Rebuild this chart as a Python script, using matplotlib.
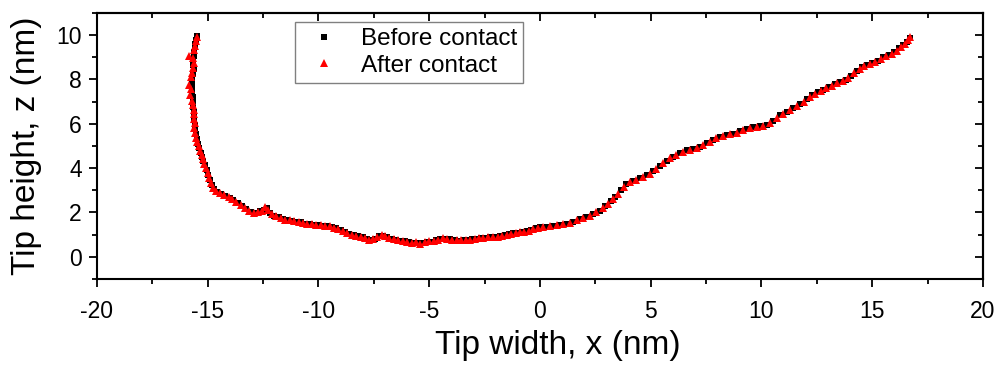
import matplotlib
matplotlib.use('Agg')
import matplotlib.pyplot as plt
from matplotlib.ticker import MultipleLocator

# tip profile before contact (black squares)
before_x = [-15.50, -15.53, -15.56, -15.58, -15.60, -15.62, -15.65, -15.66, -15.64, -15.67,
            -15.70, -15.73, -15.72, -15.70, -15.68, -15.66, -15.65, -15.63, -15.61, -15.60,
            -15.58, -15.57, -15.55, -15.50, -15.45, -15.38, -15.32, -15.25, -15.20, -15.12,
            -15.05, -14.98, -14.90, -14.82, -14.72, -14.58, -14.40, -14.20, -14.00, -13.85,
            -13.65, -13.45, -13.25, -13.05, -12.85, -12.65, -12.45, -12.32, -12.18, -12.00,
            -11.80, -11.60, -11.40, -11.20, -11.00, -10.80, -10.60, -10.40, -10.20, -10.00,
            -9.80, -9.60, -9.40, -9.20, -9.00, -8.80, -8.60, -8.40, -8.20, -8.00,
            -7.80, -7.65, -7.45, -7.25, -7.07, -6.90, -6.70, -6.50, -6.30, -6.10,
            -5.90, -5.70, -5.50, -5.30, -5.12, -4.90, -4.70, -4.50, -4.30, -4.06,
            -3.85, -3.65, -3.45, -3.25, -3.05, -2.85, -2.65, -2.45, -2.25, -2.00,
            -1.80, -1.60, -1.40, -1.20, -1.00, -0.80, -0.60, -0.40, -0.20, 0.00,
            0.30, 0.60, 0.90, 1.20, 1.50, 1.80, 2.10, 2.40, 2.71, 2.95,
            3.20, 3.40, 3.65, 3.90, 4.20, 4.50, 4.82, 5.10, 5.40, 5.72,
            6.00, 6.30, 6.62, 6.92, 7.22, 7.52, 7.82, 8.12, 8.43, 8.73,
            9.03, 9.33, 9.63, 9.93, 10.23, 10.53, 10.84, 11.14, 11.44, 11.74,
            12.05, 12.30, 12.55, 12.80, 13.05, 13.30, 13.55, 13.80, 14.05, 14.30,
            14.55, 14.75, 15.00, 15.25, 15.50, 15.75, 16.00, 16.20, 16.40, 16.55,
            16.70]
before_z = [9.95, 9.80, 9.62, 9.45, 9.25, 9.05, 8.87, 8.65, 8.45, 8.25,
            8.05, 7.81, 7.60, 7.40, 7.20, 6.98, 6.76, 6.55, 6.35, 6.15,
            5.95, 5.75, 5.55, 5.30, 5.10, 4.90, 4.70, 4.50, 4.32, 4.12,
            3.92, 3.70, 3.48, 3.25, 3.05, 2.92, 2.84, 2.75, 2.67, 2.55,
            2.42, 2.28, 2.15, 2.02, 1.98, 2.05, 2.12, 2.18, 1.98, 1.86,
            1.78, 1.72, 1.66, 1.62, 1.58, 1.55, 1.50, 1.48, 1.45, 1.42,
            1.40, 1.38, 1.35, 1.28, 1.20, 1.10, 1.03, 0.98, 0.92, 0.88,
            0.80, 0.76, 0.82, 0.92, 0.95, 0.88, 0.82, 0.76, 0.72, 0.70,
            0.66, 0.62, 0.64, 0.62, 0.65, 0.68, 0.74, 0.80, 0.82, 0.80,
            0.76, 0.72, 0.74, 0.76, 0.80, 0.82, 0.84, 0.86, 0.88, 0.90,
            0.92, 0.98, 1.04, 1.06, 1.08, 1.12, 1.15, 1.22, 1.30, 1.33,
            1.36, 1.40, 1.45, 1.48, 1.58, 1.70, 1.78, 1.92, 2.08, 2.30,
            2.50, 2.70, 3.00, 3.29, 3.42, 3.55, 3.67, 3.85, 4.10, 4.34,
            4.52, 4.68, 4.80, 4.88, 4.95, 5.12, 5.28, 5.40, 5.48, 5.55,
            5.66, 5.76, 5.85, 5.88, 5.93, 6.12, 6.38, 6.55, 6.70, 6.91,
            7.10, 7.28, 7.42, 7.54, 7.65, 7.80, 7.89, 7.98, 8.15, 8.38,
            8.58, 8.64, 8.72, 8.85, 9.00, 9.10, 9.22, 9.40, 9.55, 9.70,
            9.85]

# tip profile after contact (red triangles)
after_x = [-15.48, -15.52, -15.57, -15.60, -15.85, -15.66, -15.63, -15.68, -15.72, -15.75,
           -15.85, -15.75, -15.78, -15.70, -15.68, -15.64, -15.62, -15.60, -15.58, -15.60,
           -15.57, -15.52, -15.47, -15.40, -15.33, -15.27, -15.22, -15.15, -15.08, -15.00,
           -14.93, -14.85, -14.76, -14.62, -14.45, -14.25, -14.05, -13.90, -13.72, -13.52,
           -13.32, -13.12, -12.92, -12.72, -12.55, -12.40, -12.28, -12.10, -11.90, -11.70,
           -11.50, -11.30, -11.10, -10.90, -10.70, -10.50, -10.30, -10.10, -9.90, -9.70,
           -9.50, -9.30, -9.10, -8.90, -8.70, -8.50, -8.30, -8.10, -7.90, -7.72,
           -7.55, -7.35, -7.15, -6.98, -6.80, -6.60, -6.40, -6.20, -6.00, -5.80,
           -5.60, -5.40, -5.20, -5.00, -4.80, -4.60, -4.40, -4.18, -3.95, -3.75,
           -3.55, -3.35, -3.15, -2.95, -2.75, -2.55, -2.35, -2.12, -1.90, -1.70,
           -1.50, -1.30, -1.10, -0.90, -0.70, -0.50, -0.30, -0.10, 0.15, 0.45,
           0.75, 1.05, 1.35, 1.65, 1.95, 2.25, 2.55, 2.85, 3.08, 3.30,
           3.52, 3.78, 4.05, 4.35, 4.65, 4.95, 5.25, 5.55, 5.85, 6.15,
           6.45, 6.77, 7.07, 7.37, 7.67, 7.97, 8.27, 8.58, 8.88, 9.18,
           9.48, 9.78, 10.08, 10.38, 10.68, 10.99, 11.29, 11.59, 11.90, 12.18,
           12.43, 12.68, 12.93, 13.18, 13.43, 13.68, 13.93, 14.18, 14.43, 14.65,
           14.88, 15.12, 15.38, 15.62, 15.88, 16.10, 16.30, 16.48, 16.62, 16.72]
after_z = [9.92, 9.72, 9.52, 9.32, 9.05, 8.95, 8.72, 8.50, 8.30, 8.10,
           7.75, 7.55, 7.30, 7.05, 6.85, 6.62, 6.42, 6.22, 6.02, 5.80,
           5.60, 5.38, 5.18, 4.98, 4.78, 4.58, 4.40, 4.20, 4.00, 3.78,
           3.56, 3.35, 3.12, 2.98, 2.88, 2.80, 2.72, 2.60, 2.48, 2.35,
           2.20, 2.08, 1.96, 2.00, 2.08, 2.25, 2.10, 1.92, 1.82, 1.76,
           1.68, 1.64, 1.60, 1.55, 1.52, 1.50, 1.46, 1.44, 1.42, 1.40,
           1.38, 1.32, 1.25, 1.15, 1.06, 1.00, 0.95, 0.90, 0.85, 0.78,
           0.80, 0.88, 0.98, 0.92, 0.85, 0.80, 0.74, 0.72, 0.68, 0.64,
           0.66, 0.60, 0.66, 0.70, 0.72, 0.78, 0.84, 0.82, 0.78, 0.74,
           0.76, 0.74, 0.78, 0.82, 0.84, 0.85, 0.88, 0.90, 0.90, 0.95,
           1.00, 1.05, 1.08, 1.10, 1.14, 1.18, 1.26, 1.32, 1.34, 1.38,
           1.42, 1.46, 1.52, 1.64, 1.74, 1.85, 2.00, 2.20, 2.40, 2.60,
           2.85, 3.15, 3.38, 3.48, 3.62, 3.75, 3.98, 4.22, 4.44, 4.60,
           4.74, 4.84, 4.92, 5.04, 5.20, 5.34, 5.44, 5.52, 5.60, 5.72,
           5.80, 5.86, 5.90, 6.02, 6.25, 6.46, 6.62, 6.80, 7.00, 7.20,
           7.35, 7.48, 7.60, 7.72, 7.85, 7.94, 8.05, 8.28, 8.48, 8.62,
           8.68, 8.78, 8.92, 9.05, 9.15, 9.30, 9.48, 9.62, 9.78, 9.92]

plt.rcParams['font.family'] = ['Liberation Sans', 'DejaVu Sans']
plt.rcParams['axes.unicode_minus'] = False

fig = plt.figure(figsize=(10.03, 3.70), dpi=100)
ax = fig.add_axes([0.0967, 0.246, 0.8833, 0.719])

ax.plot(before_x, before_z, 's', color='black', markersize=4.8, markeredgewidth=0,
        label='Before contact')
ax.plot(after_x, after_z, '^', color='red', markersize=5.6, markeredgewidth=0,
        label='After contact')

ax.set_xlim(-20, 20)
ax.set_ylim(-1, 11)
ax.xaxis.set_major_locator(MultipleLocator(5))
ax.xaxis.set_minor_locator(MultipleLocator(2.5))
ax.set_yticks([0, 2, 4, 6, 8, 10])
ax.yaxis.set_minor_locator(MultipleLocator(1))
# bottom / left ticks point outwards
ax.tick_params(which='both', direction='out', width=1.3, labelsize=16.5, pad=5)
ax.tick_params(axis='x', pad=9)
ax.tick_params(which='major', length=6)
ax.tick_params(which='minor', length=3.5)

# top / right ticks point inwards, no labels
top = ax.secondary_xaxis('top')
top.xaxis.set_major_locator(MultipleLocator(5))
top.xaxis.set_minor_locator(MultipleLocator(2.5))
top.tick_params(which='both', direction='in', width=1.3, labeltop=False)
top.tick_params(which='major', length=6)
top.tick_params(which='minor', length=3.5)
right = ax.secondary_yaxis('right')
right.set_yticks([0, 2, 4, 6, 8, 10])
right.yaxis.set_minor_locator(MultipleLocator(1))
right.tick_params(which='both', direction='in', width=1.3, labelright=False)
right.tick_params(which='major', length=6)
right.tick_params(which='minor', length=3.5)

for a in (ax, top, right):
    for sp in a.spines.values():
        sp.set_linewidth(1.5)

ax.set_xlabel('Tip width, x (nm)', fontsize=24)
ax.xaxis.set_label_coords(0.52, -0.19)
ax.set_ylabel('Tip height, z (nm)', fontsize=24, labelpad=10)

leg = ax.legend(loc='upper left', bbox_to_anchor=(0.2235, 0.966), borderaxespad=0,
                fontsize=17.5, fancybox=False, edgecolor='#808080', framealpha=1,
                handletextpad=0.55, borderpad=0.25, labelspacing=0.2,
                handlelength=1.9, markerscale=1.0)
leg.get_frame().set_linewidth(1.0)

fig.savefig('out.png', dpi=100)
